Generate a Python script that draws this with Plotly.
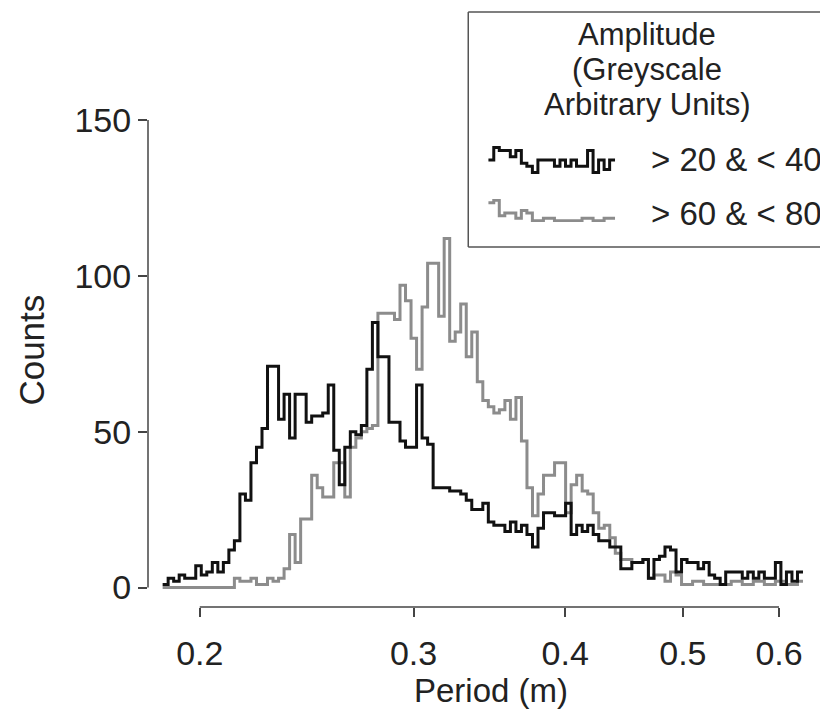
import numpy as np
import plotly.graph_objects as go

# ---- data ----
period_min = 0.1864   # first bin edge (m)
period_max = 0.6279   # last bin edge (m)
n_bins = 116

counts_20_40 = [
    1, 3, 2, 4, 3, 3, 7, 4, 5, 8,
    5, 8, 12, 15, 30, 28, 40, 45, 51, 71,
    71, 54, 62, 48, 62, 62, 53, 55, 55, 56,
    65, 44, 33, 45, 50, 49, 52, 70, 85, 74,
    74, 53, 53, 47, 45, 45, 65, 48, 46, 32,
    32, 32, 31, 31, 30, 28, 25, 25, 27, 21,
    20, 20, 18, 21, 18, 20, 17, 13, 19, 24,
    24, 23, 23, 27, 17, 20, 18, 20, 17, 15,
    15, 13, 13, 6, 6, 8, 8, 9, 3, 9,
    10, 13, 12, 5, 9, 8, 8, 6, 8, 4,
    3, 1, 5, 5, 5, 3, 5, 3, 5, 3,
    3, 8, 1, 5, 2, 5,
]

counts_60_80 = [
    0, 0, 0, 0, 0, 0, 0, 0, 0, 0,
    0, 0, 0, 3, 2, 2, 3, 1, 1, 3,
    2, 3, 6, 17, 8, 22, 22, 36, 32, 29,
    29, 40, 40, 29, 45, 48, 50, 51, 52, 88,
    88, 88, 86, 97, 92, 80, 70, 90, 104, 104,
    87, 112, 79, 82, 91, 74, 82, 66, 60, 58,
    56, 57, 60, 54, 61, 47, 32, 23, 30, 36,
    36, 40, 40, 24, 33, 36, 31, 30, 24, 19,
    20, 16, 11, 9, 9, 8, 8, 9, 3, 4,
    4, 2, 5, 4, 1, 1, 2, 2, 1, 1,
    1, 1, 1, 2, 2, 1, 1, 2, 2, 1,
    1, 2, 2, 1, 1, 2,
]

x_ticks = [0.2, 0.3, 0.4, 0.5, 0.6]
x_tick_labels = ["0.2", "0.3", "0.4", "0.5", "0.6"]
y_ticks = [0, 50, 100, 150]
y_tick_labels = ["0", "50", "100", "150"]

legend_title = ["Amplitude", "(Greyscale", "Arbitrary Units)"]
series_names = ["> 20 & < 40", "> 60 & < 80"]

# ---- styling ----
FONT = "Liberation Sans, Arial, Helvetica, sans-serif"
FS_TICK = 34
FS_LEG = 33
FS_LTITLE = 31
TXT = "#222222"
AXC = "#444444"
BLACK = "#111111"
GREY = "#8c8c8c"

OFF = 8  # page body margin
W, H = 828 - OFF, 720 - OFF
L, R, T, B = 147.5 - OFF, 808 - OFF, 120 - OFF, 607 - OFF

def px(xr):  # reference pixel x -> paper
    return (xr - OFF - L) / (R - L)

def py(yr):  # reference pixel y -> paper
    return (B - (yr - OFF)) / (B - T)

edges = np.geomspace(period_min, period_max, n_bins + 1)

def step_xy(cnts):
    return list(edges), list(cnts) + [cnts[-1]]

fig = go.Figure()
gx, gy = step_xy(counts_60_80)
fig.add_trace(go.Scatter(x=gx, y=gy, mode="lines", line=dict(color=GREY, width=3, shape="hv"),
                         name=series_names[1], showlegend=False))
kx, ky = step_xy(counts_20_40)
fig.add_trace(go.Scatter(x=kx, y=ky, mode="lines", line=dict(color=BLACK, width=3, shape="hv"),
                         name=series_names[0], showlegend=False))

# legend glyphs: tails of the two histograms drawn small inside the legend box
snip_k = counts_20_40[93:116]
snip_g = counts_60_80[86:109]
fig.add_trace(go.Scatter(x=list(range(len(snip_k) + 1)), y=snip_k + [snip_k[-1]], mode="lines",
                         line=dict(color=BLACK, width=3, shape="hv"),
                         xaxis="x2", yaxis="y2", showlegend=False, hoverinfo="skip"))
fig.add_trace(go.Scatter(x=list(range(len(snip_g) + 1)), y=snip_g + [snip_g[-1]], mode="lines",
                         line=dict(color=GREY, width=3, shape="hv"),
                         xaxis="x2", yaxis="y3", showlegend=False, hoverinfo="skip"))

lx_min = np.log10(0.2) + (147.5 - 199.3) / 1215.0
lx_max = np.log10(0.2) + (808 - 199.3) / 1215.0
y_bottom = -(607 - 587.5) / ((587.5 - 120) / 150.0)

fig.update_layout(
    width=W, height=H,
    margin=dict(l=L, r=W - R, t=T, b=H - B, pad=0),
    paper_bgcolor="white", plot_bgcolor="white",
    font=dict(family=FONT, size=FS_TICK, color=TXT),
    xaxis=dict(type="log", range=[lx_min, lx_max], tickvals=x_ticks, ticktext=x_tick_labels,
               ticks="outside", ticklen=9, tickwidth=1.5, tickcolor=AXC,
               showline=False, showgrid=False, zeroline=False,
               ticklabelstandoff=7, tickfont=dict(size=FS_TICK, color=TXT)),
    yaxis=dict(range=[y_bottom, 150], tickvals=y_ticks, ticktext=y_tick_labels,
               ticks="outside", ticklen=9, tickwidth=1.5, tickcolor=AXC,
               showline=False, showgrid=False, zeroline=False,
               ticklabelstandoff=0, tickfont=dict(size=FS_TICK, color=TXT)),
    xaxis2=dict(domain=[px(488), px(615)], anchor="y2", visible=False, range=[0, 23]),
    yaxis2=dict(domain=[py(174), py(146)], anchor="x2", visible=False),
    yaxis3=dict(domain=[py(222), py(199)], anchor="x2", visible=False),
    showlegend=False,
)

BOXC = "#555555"
shapes = [
    dict(type="line", xref="paper", yref="y", x0=0, x1=0, y0=0, y1=150,
         line=dict(color=AXC, width=1.5)),
    dict(type="line", xref="x", yref="paper", x0=0.2, x1=0.6, y0=0, y1=0,
         line=dict(color=AXC, width=1.5)),
    # legend box (runs off the right edge of the figure)
    dict(type="line", xref="paper", yref="paper", x0=px(468), x1=px(860), y0=py(12), y1=py(12),
         line=dict(color=BOXC, width=1.5)),
    dict(type="line", xref="paper", yref="paper", x0=px(468), x1=px(860), y0=py(247), y1=py(247),
         line=dict(color=BOXC, width=1.5)),
    dict(type="line", xref="paper", yref="paper", x0=px(468), x1=px(468), y0=py(12), y1=py(247),
         line=dict(color=BOXC, width=1.5)),
]
fig.update_layout(shapes=shapes)

ann = []
for t, yy in zip(legend_title, [35, 70, 105]):
    ann.append(dict(text=t, xref="paper", yref="paper", x=px(647), y=py(yy),
                    xanchor="center", yanchor="middle", showarrow=False,
                    font=dict(size=FS_LTITLE, color=TXT)))
for t, yy in zip(series_names, [159, 213]):
    ann.append(dict(text=t, xref="paper", yref="paper", x=px(649), y=py(yy),
                    xanchor="left", yanchor="middle", showarrow=False,
                    font=dict(size=FS_LEG, color=TXT)))
ann.append(dict(text="Counts", xref="paper", yref="paper", x=px(30), y=py(350), textangle=-90,
                xanchor="center", yanchor="middle", showarrow=False, font=dict(size=35, color=TXT)))
ann.append(dict(text="Period (m)", xref="paper", yref="paper", x=px(491), y=py(690),
                xanchor="center", yanchor="middle", showarrow=False, font=dict(size=FS_LEG, color=TXT)))
fig.update_layout(annotations=ann)

fig.write_html("out.html")
